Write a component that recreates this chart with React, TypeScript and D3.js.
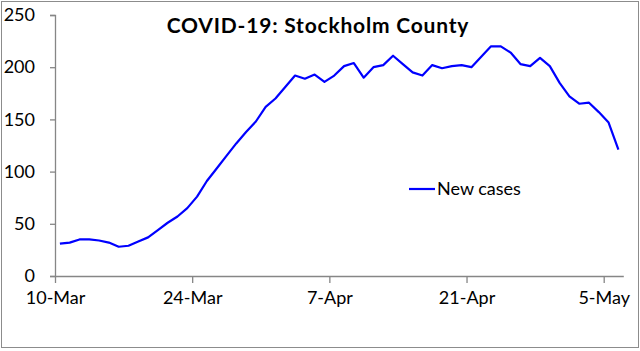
import React, { useEffect, useRef } from 'react'
import * as d3 from 'd3'

// daily new cases, Stockholm County, starting 10-Mar-2020
const startDate = new Date(2020, 2, 10)
const newCases = [
  31, 32, 35, 35, 34, 32, 28, 29, 33, 37,
  44, 51, 57, 65, 76, 91, 103, 115, 127, 138,
  148, 162, 170, 181, 192, 189, 193, 186, 192, 201,
  204, 190, 200, 202, 211, 203, 195, 192, 202, 199,
  201, 202, 200, 210, 220, 220, 214, 203, 201, 209,
  201, 185, 172, 165, 166, 157, 147, 121
]
const yTicks = [0, 50, 100, 150, 200, 250]
const xTickDates = [
  new Date(2020, 2, 10),
  new Date(2020, 2, 24),
  new Date(2020, 3, 7),
  new Date(2020, 3, 21),
  new Date(2020, 4, 5)
]
const title = 'COVID-19: Stockholm County'
const seriesName = 'New cases'

const W = 640
const H = 351
const FONT = 'Lato, "Open Sans", sans-serif'

const App = () => {
  const svgRef = useRef<SVGSVGElement>(null)

  useEffect(() => {
    const svg = d3.select(svgRef.current)
    svg.selectAll('*').remove()

    const data = newCases.map((v, i) => ({ date: d3.timeDay.offset(startDate, i), value: v }))
    const endDate = d3.timeDay.offset(startDate, newCases.length)

    const x = d3.scaleTime().domain([startDate, endDate]).range([55, 623.3])
    const y = d3.scaleLinear().domain([0, 250]).range([276, 15])
    const fmt = d3.timeFormat('%-d-%b')

    // frame
    svg.append('rect')
      .attr('x', 1.5).attr('y', 1.5)
      .attr('width', W - 3).attr('height', H - 5)
      .attr('fill', '#fff')
      .attr('stroke', '#8c8c8c')

    // y axis
    const yAxis = svg.append('g').attr('transform', 'translate(55,0)')
      .call(d3.axisLeft(y).tickValues(yTicks).tickSize(5).tickPadding(15))
    yAxis.select('.domain').attr('stroke', '#868686').attr('stroke-width', 1.3)
    yAxis.selectAll('.tick line').attr('stroke', '#868686').attr('stroke-width', 1.3)
    yAxis.selectAll('.tick text')
      .attr('fill', '#000').attr('font-family', FONT).attr('font-size', 18)

    // x axis
    const xAxis = svg.append('g').attr('transform', 'translate(0,276)')
      .call(d3.axisBottom(x).tickValues(xTickDates).tickFormat(d => fmt(d as Date))
        .tickSizeInner(7).tickSizeOuter(0).tickPadding(8))
    xAxis.select('.domain').attr('stroke', '#868686').attr('stroke-width', 1.3)
    xAxis.selectAll('.tick line').attr('stroke', '#868686').attr('stroke-width', 1.3)
    xAxis.selectAll('.tick text')
      .attr('fill', '#000').attr('font-family', FONT).attr('font-size', 18)

    // series line, points centred in each day
    const line = d3.line<{ date: Date; value: number }>()
      .x(d => x(d3.timeHour.offset(d.date, 12)))
      .y(d => y(d.value))
    svg.append('path')
      .datum(data)
      .attr('d', line)
      .attr('fill', 'none')
      .attr('stroke', '#0000ff')
      .attr('stroke-width', 2.2)
      .attr('stroke-linejoin', 'round')

    // title
    svg.append('text')
      .attr('x', 318).attr('y', 33)
      .attr('text-anchor', 'middle')
      .attr('font-family', FONT).attr('font-weight', 'bold').attr('font-size', 21)
      .attr('letter-spacing', 0.8)
      .attr('fill', '#000')
      .text(title)

    // legend
    svg.append('line')
      .attr('x1', 409).attr('x2', 435).attr('y1', 189).attr('y2', 189)
      .attr('stroke', '#0000ff').attr('stroke-width', 2.2)
    svg.append('text')
      .attr('x', 437).attr('y', 195)
      .attr('font-family', FONT).attr('font-size', 18)
      .attr('fill', '#000')
      .text(seriesName)
  }, [])

  return (
    <svg ref={svgRef} width={W} height={H}
      style={{ position: 'absolute', left: 0, top: 0, display: 'block' }} />
  )
}

export default App
